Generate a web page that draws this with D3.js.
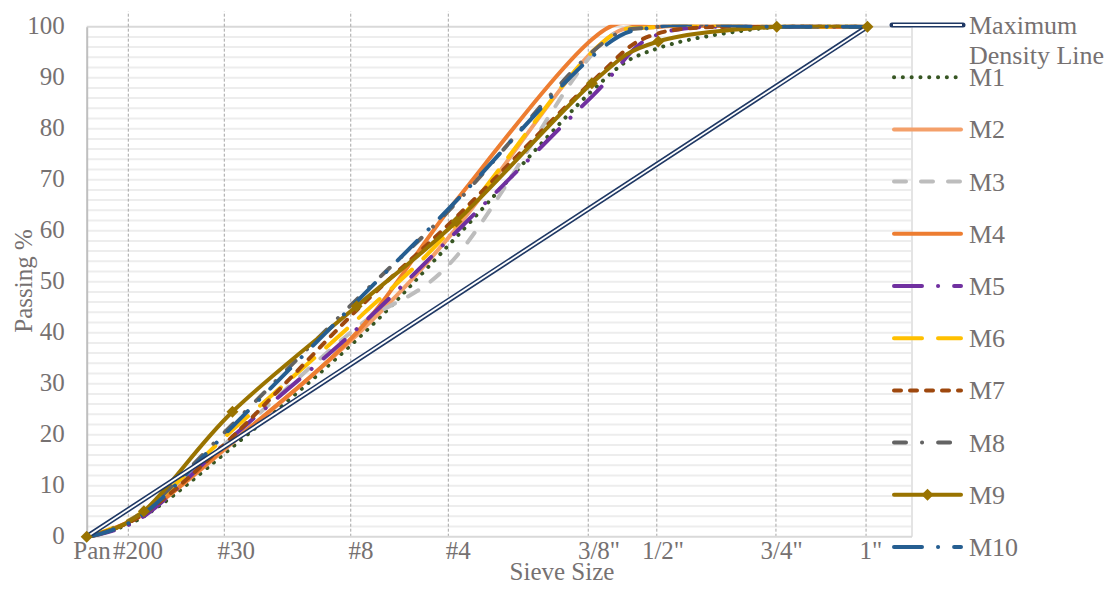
<!DOCTYPE html>
<html><head><meta charset="utf-8">
<script src="https://cdn.jsdelivr.net/npm/d3@7"></script>
<style>
body{margin:0;background:#fff}
svg{display:block}
text{font-family:"Liberation Serif","Times New Roman",serif;fill:#767171}
</style>
</head><body>
<svg id="chart" width="1110" height="593"></svg>
<script>
// ---------- data ----------
const sieveLabels = ["Pan", "#200", "#30", "#8", "#4", "3/8\"", "1/2\"", "3/4\"", "1\""];
const sieveSizes  = [0, 0.075, 0.6, 2.36, 4.75, 9.5, 12.5, 19, 25];          // mm
const gridAt      = [0.037, 0.528, 2.247, 4.52, 9.35, 12.43, 18.95, 24.9];    // guide lines (mm equivalent)
const labelAt     = [0.0004, 0.059, 0.636, 2.447, 4.80, 9.80, 12.73, 19.30, 25.25]; // label centres (mm equivalent)
const yTicks      = [0, 10, 20, 30, 40, 50, 60, 70, 80, 90, 100];

const maxDensitySizes = [0, 25];
const maxDensity      = [0, 100];

const M1  = [0, 4.0, 17.6, 38.6, 58.8, 87.4, 95.8, 100, 100];
const M2  = [0, 4.5, 18.4, 39.5, 60.5, 95.0, 100, 100, 100];
const M3  = [0, 4.5, 19.5, 41.0, 55.0, 94.5, 100, 100, 100];
const M4  = [0, 4.5, 18.6, 40.0, 66.0, 97.5, 100, 100, 100];
const M5  = [0, 4.0, 19.6, 40.7, 59.8, 86.3, 98.5, 100, 100];
const M6  = [0, 5.0, 20.9, 42.5, 61.5, 95.0, 100, 100, 100];
const M7  = [0, 4.5, 19.6, 44.4, 62.7, 89.2, 98.7, 100, 100];
const M8  = [0, 5.0, 22.0, 46.5, 65.5, 95.0, 100, 100, 100];
const M9  = [0, 5.0, 24.5, 45.2, 61.8, 88.9, 97.1, 100, 100];
const M10 = [0, 4.5, 21.6, 46.1, 65.9, 94.1, 100, 100, 100];

const seriesNames  = ["M1","M2","M3","M4","M5","M6","M7","M8","M9","M10"];
const seriesValues = [M1, M2, M3, M4, M5, M6, M7, M8, M9, M10];

// ---------- styles ----------
const styles = {
  M1:  {color:"#375623", dash:"0.1 8.7", width:4},
  M2:  {color:"#F4A06A", dash:null, width:4},
  M3:  {color:"#BDBDBD", dash:"12 15", width:4},
  M4:  {color:"#ED7D31", dash:null, width:4},
  M5:  {color:"#7030A0", dash:"28 16 0.1 16", width:4},
  M6:  {color:"#FFC000", dash:"28 16", width:4},
  M7:  {color:"#9E480E", dash:"7 9", width:4},
  M8:  {color:"#636363", dash:"12 16 0.1 16", width:4},
  M9:  {color:"#997300", dash:null, width:4, marker:true},
  M10: {color:"#255E91", dash:"28 16 0.1 16", width:4}
};
const navy = "#1F3864";

// ---------- layout ----------
const svg = d3.select("#chart");
const x = d3.scalePow().exponent(0.45).domain([0, 28.28]).range([86.7, 912]);
const y = d3.scaleLinear().domain([0, 100]).range([536.7, 26.7]);

svg.append("defs").append("clipPath").attr("id", "plotClip")
  .append("rect").attr("x", 0).attr("y", y(100) - 2).attr("width", 1110).attr("height", 593);

// horizontal gridlines every 2 %
svg.append("g").selectAll("line").data(y.ticks(50).filter(v => v > 0 && v < 100)).join("line")
  .attr("x1", x(0)).attr("x2", x.range()[1])
  .attr("y1", d => y(d)).attr("y2", d => y(d))
  .attr("stroke", "#EDEDED").attr("stroke-width", 2);
svg.append("line").attr("x1", x(0)).attr("x2", x.range()[1]).attr("y1", y(100)).attr("y2", y(100))
  .attr("stroke", "#D9D9D9").attr("stroke-width", 2);
svg.append("line").attr("x1", x.range()[1]).attr("x2", x.range()[1]).attr("y1", y(100)).attr("y2", y(0))
  .attr("stroke", "#E4E4E4").attr("stroke-width", 2);

// vertical dashed guides
svg.append("g").selectAll("line").data(gridAt).join("line")
  .attr("x1", d => x(d)).attr("x2", d => x(d))
  .attr("y1", y(0)).attr("y2", y(103))
  .attr("stroke", "#A6A6A6").attr("stroke-width", 1).attr("stroke-dasharray", "3 2");

// axes
const yAxis = svg.append("g").attr("transform", `translate(${x(0)},0)`)
  .call(d3.axisLeft(y).tickValues(yTicks).tickSize(0).tickPadding(22));
yAxis.select(".domain").attr("stroke", "#BFBFBF").attr("stroke-width", 2);
yAxis.selectAll("text").attr("font-size", 25).attr("fill", "#767171")
  .attr("font-family", "Liberation Serif").attr("dy", "0.26em");

svg.append("line").attr("x1", x(0)).attr("x2", x.range()[1]).attr("y1", y(0)).attr("y2", y(0))
  .attr("stroke", "#D9D9D9").attr("stroke-width", 2);

svg.append("g").selectAll("text").data(labelAt).join("text")
  .attr("x", d => x(d)).attr("y", 559).attr("text-anchor", "middle").attr("font-size", 25)
  .text((d, i) => sieveLabels[i]);

svg.append("text").attr("x", 562).attr("y", 579.5).attr("text-anchor", "middle").attr("font-size", 25)
  .text("Sieve Size");
svg.append("text").attr("transform", "translate(32,281) rotate(-90)").attr("text-anchor", "middle")
  .attr("font-size", 25).text("Passing %");

// ---------- lines ----------
const line = d3.line().x(d => x(d[0])).y(d => y(d[1])).curve(d3.curveCardinal.tension(0));
const plot = svg.append("g").attr("clip-path", "url(#plotClip)");

const mdPts = maxDensitySizes.map((s, i) => [s, maxDensity[i]]);
const straight = d3.line().x(d => x(d[0])).y(d => y(d[1]));
svg.append("path").attr("d", straight(mdPts)).attr("fill", "none").attr("stroke", navy).attr("stroke-width", 5);
svg.append("path").attr("d", straight(mdPts)).attr("fill", "none").attr("stroke", "#fff").attr("stroke-width", 1.8);

const diamond = d3.symbol(d3.symbolSquare, 72);
seriesNames.forEach((name, k) => {
  const st = styles[name];
  const pts = sieveSizes.map((s, i) => [s, seriesValues[k][i]]);
  const p = plot.append("path").attr("d", line(pts)).attr("fill", "none")
    .attr("stroke", st.color).attr("stroke-width", st.width)
    .attr("stroke-linecap", "round").attr("stroke-linejoin", "round");
  if (st.dash) p.attr("stroke-dasharray", st.dash);
  if (st.marker) {
    svg.append("g").selectAll("path").data(pts).join("path")
      .attr("d", diamond).attr("fill", st.color)
      .attr("transform", d => `translate(${x(d[0])},${y(d[1])}) rotate(45)`);
  }
});

// ---------- legend ----------
const lg = svg.append("g");
const lx0 = 892, lx1 = 963, ltx = 969, ly0 = 25, lstep = 52.2;
lg.append("line").attr("x1", lx0).attr("x2", lx1).attr("y1", ly0).attr("y2", ly0)
  .attr("stroke", navy).attr("stroke-width", 5).attr("stroke-linecap", "round");
lg.append("line").attr("x1", lx0 + 1).attr("x2", lx1 - 1).attr("y1", ly0).attr("y2", ly0)
  .attr("stroke", "#fff").attr("stroke-width", 1.8);
lg.append("text").attr("x", ltx).attr("y", ly0 + 8.5).attr("font-size", 26).text("Maximum");
lg.append("text").attr("x", ltx).attr("y", ly0 + 38.5).attr("font-size", 26).text("Density Line");

seriesNames.forEach((name, k) => {
  const st = styles[name];
  const yy = ly0 + lstep * (k + 1);
  const l = lg.append("line").attr("x1", lx0 + 2).attr("x2", lx1 - 2).attr("y1", yy).attr("y2", yy)
    .attr("stroke", st.color).attr("stroke-width", st.width).attr("stroke-linecap", "round");
  if (st.dash) l.attr("stroke-dasharray", st.dash);
  if (st.marker) {
    lg.append("path").attr("d", diamond).attr("fill", st.color)
      .attr("transform", `translate(${(lx0 + lx1) / 2},${yy}) rotate(45)`);
  }
  lg.append("text").attr("x", ltx).attr("y", yy + 9).attr("font-size", 26).text(name);
});
</script>
</body></html>
